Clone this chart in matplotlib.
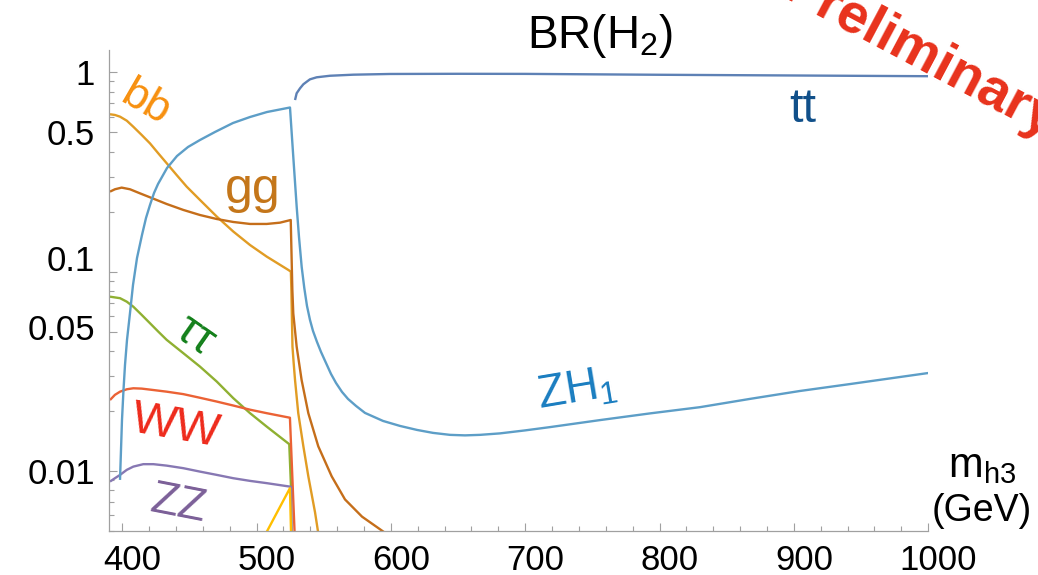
import matplotlib
matplotlib.use("Agg")
import matplotlib.pyplot as plt
import matplotlib.transforms as mtransforms
from matplotlib.ticker import FixedLocator, MultipleLocator, LogLocator, NullFormatter

plt.rcParams['font.family'] = ['Liberation Sans', 'DejaVu Sans']
plt.rcParams['mathtext.fontset'] = 'custom'
plt.rcParams['mathtext.rm'] = 'Liberation Sans'
plt.rcParams['mathtext.it'] = 'Liberation Sans:italic'

# ---- branching ratios of H2 versus m_h3 (GeV) ----
m_tt = [528.6, 529.8, 532.3, 534.8, 537.3, 539.7, 544.7, 554.6, 572.0, 599.3,
        650, 700, 800, 900, 1000]
br_tt = [0.726, 0.785, 0.831, 0.871, 0.897, 0.922, 0.944, 0.961, 0.973, 0.981,
         0.983, 0.982, 0.972, 0.964, 0.956]

m_zh1 = [398.27, 399.01, 399.75, 400.87, 401.99, 403.48, 405.72, 407.95, 410.93, 414.65,
         417.63, 420.6, 423.6, 426.6, 433.3, 440.7, 448.9, 457.8, 469.0, 482.4, 495.1,
         507.7, 524.85,
         525.96, 527.31, 528.57, 529.84, 531.55, 533.56, 535.49, 537.50, 539.73, 541.97,
         544.95, 547.93, 551.65, 555.37, 559.10, 563.57, 568.03, 573.99, 580.69, 594.10,
         606.75, 619.41, 631.33, 643.98, 655.15, 666.3, 681.2, 699.8, 718.4, 755.6, 792.9,
         830.1, 867.4, 904.6, 941.9, 1000]
br_zh1 = [0.00902, 0.01276, 0.01804, 0.02551, 0.03404, 0.04545, 0.06208, 0.08576, 0.1171, 0.1528,
          0.1859, 0.2160, 0.2481, 0.2754, 0.3312, 0.3803, 0.4220, 0.4575, 0.5019, 0.5568, 0.5968,
          0.6322, 0.6660,
          0.5137, 0.3760, 0.2818, 0.2111, 0.1493, 0.1055, 0.08283, 0.06730, 0.05726, 0.05043,
          0.04441, 0.03957, 0.03484, 0.03069, 0.02765, 0.02493, 0.02299, 0.02121, 0.01956, 0.01783,
          0.01683, 0.01607, 0.01553, 0.01518, 0.01509, 0.01518, 0.01544, 0.01598, 0.0166, 0.0180,
          0.01945, 0.0209, 0.0230, 0.0252, 0.0273, 0.0310]

m_bb = [390.8, 394.5, 398.3, 403.3, 408.2, 414.4, 420.6, 426.8, 433.0, 440.5, 447.9,
        457.8, 470.3, 482.6, 495.1, 507.5, 523.6, 525.5, 525.9, 526.2, 526.7, 527.6,
        528.6, 531.0, 534.8, 538.5, 543.5, 545.5, 547.2]
br_bb = [0.616, 0.611, 0.599, 0.572, 0.533, 0.485, 0.440, 0.392, 0.350, 0.305, 0.267,
         0.229, 0.189, 0.159, 0.136, 0.119, 0.102, 0.100, 0.080, 0.062, 0.042, 0.0347,
         0.0286, 0.0195, 0.0133, 0.0094, 0.0062, 0.00507, 0.0043]

m_gg = [390.8, 394.5, 399.5, 405.7, 413.2, 420.6, 433.0, 445.4, 457.8, 470.3, 482.6,
        495.1, 507.5, 517.4, 525.4, 526.6, 527.3, 529.8, 533.5, 538.5, 545.9, 555.9,
        565.8, 578.5, 591.9, 599.3]
br_gg = [0.252, 0.259, 0.264, 0.259, 0.247, 0.236, 0.2185, 0.204, 0.1924, 0.1837, 0.1775,
         0.1735, 0.1735, 0.1761, 0.1816, 0.081, 0.0617, 0.0421, 0.0286, 0.0195, 0.0133, 0.0094,
         0.0072, 0.0059, 0.0051, 0.0047]

m_tautau = [390.8, 398.3, 403.3, 408.2, 414.4, 420.6, 426.8, 433.0, 445.4, 457.8, 470.3,
            482.6, 495.1, 507.5, 524.3, 525.6, 526.2]
br_tautau = [0.0749, 0.0736, 0.0707, 0.0667, 0.0607, 0.0551, 0.0500, 0.0455, 0.0390, 0.0334,
             0.0281, 0.0232, 0.0195, 0.0167, 0.01363, 0.0083, 0.003]

m_ww = [390.8, 394.5, 398.3, 403.3, 408.2, 414.4, 420.6, 433.0, 445.4, 457.8, 470.3,
        482.6, 495.1, 507.5, 524.8, 528.5]
br_ww = [0.0227, 0.0241, 0.0250, 0.0257, 0.0260, 0.0259, 0.0256, 0.0250, 0.0243, 0.0233,
         0.0223, 0.0213, 0.0203, 0.0195, 0.0185, 0.0045]

m_zz = [390.8, 394.5, 398.3, 403.3, 408.2, 415.6, 423.1, 433.0, 445.4, 457.8, 470.3,
        482.6, 495.1, 507.5, 524.8, 525.6, 526.2]
br_zz = [0.00885, 0.00920, 0.00956, 0.01013, 0.01052, 0.01082, 0.01082, 0.01064, 0.01033,
         0.00993, 0.00956, 0.00920, 0.00892, 0.00869, 0.00835, 0.0083, 0.003]

m_other = [505, 524.8, 525.6, 526.2]
br_other = [0.0046, 0.0082, 0.005, 0.003]

x_ticks = [400, 500, 600, 700, 800, 900, 1000]
y_ticks = [0.01, 0.05, 0.1, 0.5, 1]
y_tick_labels = ['0.01', '0.05', '0.1', '0.5', '1']

fig = plt.figure(figsize=(10.38, 5.75), dpi=100)
ax = fig.add_axes([108.9 / 1038, 44 / 575, 819.2 / 1038, 481.4 / 575])

lw = 1.7
series = [
    (m_tt, br_tt, '#5E81B5'),
    (m_bb, br_bb, '#E19C24'),
    (m_tautau, br_tautau, '#8FB032'),
    (m_ww, br_ww, '#EB6235'),
    (m_zz, br_zz, '#8778B3'),
    (m_gg, br_gg, '#C56E1A'),
    (m_zh1, br_zh1, '#5D9EC7'),
    (m_other, br_other, '#FFBF00'),
]
for xs, ys, c in series:
    ax.plot(xs, ys, color=c, lw=lw, solid_joinstyle='round', solid_capstyle='butt')

ax.set_yscale('log')
ax.set_xlim(390, 1000)
ax.set_ylim(0.005, 1.3)

for side in ('top', 'right'):
    ax.spines[side].set_visible(False)
for side in ('left', 'bottom'):
    ax.spines[side].set_color('#a0a0a0')
    ax.spines[side].set_linewidth(0.9)

ax.xaxis.set_major_locator(FixedLocator(x_ticks))
ax.xaxis.set_minor_locator(MultipleLocator(20))
ax.yaxis.set_major_locator(FixedLocator(y_ticks))
ax.yaxis.set_minor_locator(LogLocator(base=10, subs=range(1, 10)))
ax.yaxis.set_minor_formatter(NullFormatter())
ax.set_yticklabels(y_tick_labels)

ax.tick_params(which='both', direction='in', color='#a0a0a0', width=0.8)
ax.tick_params(which='major', length=5.5, labelsize=25)
ax.tick_params(which='minor', length=3.5)
ax.tick_params(axis='x', which='major', pad=9)
ax.tick_params(axis='y', which='major', pad=10)

# x tick labels sit slightly right of their ticks
for tick in ax.xaxis.get_major_ticks():
    tick.label1.set_transform(mtransforms.offset_copy(
        tick.label1.get_transform(), fig=fig, x=7.5, y=0, units='points'))
# lift a couple of y tick labels
y_lift = {'0.1': 9.5, '0.05': 3.0}
for tick, lab in zip(ax.yaxis.get_major_ticks(), y_tick_labels):
    if lab in y_lift:
        tick.label1.set_transform(mtransforms.offset_copy(
            tick.label1.get_transform(), fig=fig, x=0, y=y_lift[lab], units='points'))

# channel labels
ax.text(416.9, 0.70, 'bb', color='#F7900F', fontsize=32, rotation=-30,
        ha='center', va='center', rotation_mode='anchor')
ax.text(497.3, 0.221, 'gg', color='#C4761A', fontsize=36, ha='center', va='baseline')
ax.text(906.9, 0.563, 'tt', color='#11508A', fontsize=35, ha='center', va='baseline')
ax.text(738.5, 0.0255, r'ZH$_{\mathregular{1}}$', color='#1A7DC0', fontsize=33,
        rotation=9.5, ha='center', va='center', rotation_mode='anchor')
ax.text(454.1, 0.0476, 'ττ', color='#13801A', fontsize=34, rotation=-35,
        ha='center', va='center', rotation_mode='anchor')
ax.text(440, 0.0166, 'WW', color='#EE2A1B', fontsize=34, rotation=-10,
        ha='center', va='center', rotation_mode='anchor')
ax.text(441.5, 0.0068, 'ZZ', color='#7B5F98', fontsize=33, rotation=-11,
        ha='center', va='center', rotation_mode='anchor')

# title and axis label
fig.text(600 / 1038, 1 - 48 / 575, r'$\mathregular{BR(H_2)}$', ha='center',
         va='baseline', fontsize=33)
fig.text(982 / 1038, 1 - 477 / 575, r'$\mathregular{m_{h3}}$', ha='center',
         va='baseline', fontsize=30)
fig.text(982 / 1038, 1 - 521 / 575, '(GeV)', ha='center', va='baseline', fontsize=27)

# watermark
fig.text(913 / 1038, 1 - 68 / 575, 'Preliminary', color='#E8321C', fontsize=40,
         fontweight='bold', rotation=-28, ha='center', va='baseline',
         rotation_mode='anchor')

fig.savefig('out.png', dpi=100)
